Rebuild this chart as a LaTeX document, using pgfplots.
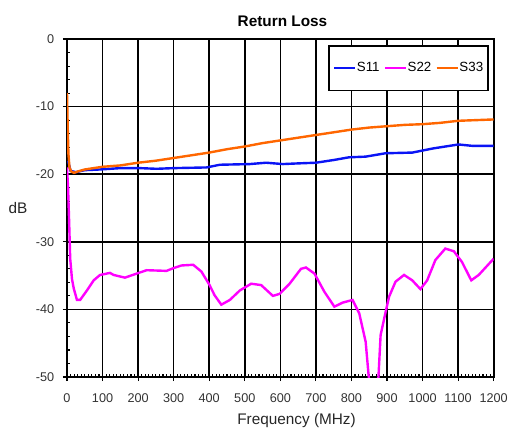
\documentclass[border=0pt]{standalone}
\usepackage{fontspec}
\setmainfont{Liberation Sans}
\usepackage{pgfplots}
\pgfplotsset{compat=1.18}
\definecolor{sblue}{RGB}{10,20,245}
\definecolor{smag}{RGB}{255,0,255}
\definecolor{sorange}{RGB}{255,102,0}
\begin{document}
\begin{tikzpicture}
\begin{axis}[
  name=ax,
  scale only axis,
  width=320pt, height=253.5pt,
  xmin=0, xmax=1200, ymin=-50, ymax=0,
  xtick={0,100,200,300,400,500,600,700,800,900,1000,1100,1200},
  ytick={-50,-40,-30,-20,-10,0},
  minor xtick={0,10,...,1200},
  minor ytick={-50,-48,...,0},
  xtick pos=bottom, ytick pos=left,
  tick align=inside,
  major tick length=3pt, minor tick length=2.5pt,
  tick style={black, line width=0.8pt},
  xmajorgrids=true, ymajorgrids=true,
  major grid style={black, line width=1.1pt},
  axis line style={black, line width=1.3pt},
  extra x ticks={0,100,200,300,400,500,600,700,800,900,1000,1100,1200},
  extra x tick labels={,,,,,,,,,,,,},
  extra y ticks={-50,-40,-30,-20,-10,0},
  extra y tick labels={,,,,,},
  extra tick style={tick align=outside, major tick length=3pt, grid=none},
  /pgf/number format/assume math mode=true,
  /pgf/number format/1000 sep={},
  ticklabel style={font=\fontsize{9.5}{11}\selectfont, text=black!80},
  x tick label style={anchor=north, yshift=-9pt},
  y tick label style={anchor=east, xshift=-6pt},
  title={Return Loss},
  title style={font=\bfseries\fontsize{11.5}{13}\selectfont, at={(axis description cs:0.505,1)}, anchor=center, yshift=7pt},
  xlabel={Frequency (MHz)},
  xlabel style={font=\fontsize{11.5}{13}\selectfont, text=black!85, at={(axis description cs:0.538,0)}, anchor=center, yshift=-33pt},
  ylabel={dB},
  ylabel style={font=\fontsize{11.5}{13}\selectfont, text=black!85, rotate=-90, at={(axis description cs:-0.115,0.5)}, anchor=center},
  legend columns=-1,
  legend style={at={(1,1)}, anchor=north east, xshift=-3.75pt, yshift=-4.5pt,
    draw=black, line width=1.2pt, fill=white,
    font=\fontsize{10}{12}\selectfont,
    inner xsep=3pt, inner ysep=10.5pt,
    nodes={inner xsep=0.5pt},
    /tikz/every even column/.append style={column sep=2.5pt}},
  legend image code/.code={\draw[#1] (0pt,0pt) -- (15.75pt,0pt);},
]
\addplot[sblue, line width=1.8pt] coordinates {
(3,-18) (10,-19.5) (25,-19.7) (50,-19.4) (93,-19.3) (150,-19.1) (205,-19.1)
(252,-19.2) (300,-19.1) (392,-19.0) (430,-18.6) (514,-18.5) (560,-18.3)
(607,-18.5) (650,-18.4) (700,-18.3) (750,-17.9) (793,-17.5) (840,-17.4)
(896,-16.9) (971,-16.8) (1028,-16.2) (1101,-15.6) (1139,-15.8) (1200,-15.8)
};
\addlegendentry{S11}
\addplot[smag, line width=1.8pt] coordinates {
(0,-19) (3,-22) (6,-27) (9,-32.5) (14,-35.5) (19,-36.9) (28,-38.6) (37,-38.6)
(56,-37.2) (75,-35.7) (93,-34.9) (121,-34.6) (131,-34.9) (163,-35.3) (196,-34.7)
(224,-34.2) (280,-34.3) (299,-33.9) (322,-33.5) (355,-33.4) (378,-34.4)
(401,-36.4) (415,-37.9) (434,-39.3) (458,-38.6) (486,-37.2) (518,-36.2)
(546,-36.4) (579,-38.0) (598,-37.7) (626,-36.2) (658,-34.0) (672,-33.8)
(696,-34.7) (724,-37.4) (752,-39.6) (775,-39.0) (803,-38.6) (822,-40.6)
(840,-44.8) (852,-52) (874,-52) (882,-43.8) (896,-40.4) (906,-38.1)
(924,-35.9) (948,-34.9) (971,-35.7) (994,-37.0) (1013,-35.7) (1036,-32.7)
(1064,-31.0) (1088,-31.4) (1111,-33.0) (1137,-35.7) (1158,-34.9) (1200,-32.5)
};
\addlegendentry{S22}
\addplot[sorange, line width=1.8pt] coordinates {
(0,-8) (2,-13) (4,-17) (7,-19) (12,-19.6) (20,-19.8) (30,-19.6) (50,-19.3)
(75,-19.1) (100,-18.9) (150,-18.7) (200,-18.3) (250,-18.0) (300,-17.6)
(350,-17.2) (400,-16.8) (450,-16.3) (500,-15.9) (550,-15.4) (600,-15.0)
(650,-14.6) (700,-14.2) (750,-13.8) (800,-13.4) (850,-13.1) (900,-12.9)
(950,-12.7) (1000,-12.6) (1050,-12.4) (1100,-12.1) (1150,-12.0) (1200,-11.9)
};
\addlegendentry{S33}
\end{axis}
\pgfresetboundingbox
\path (-50.25pt,-39.75pt) rectangle (331.5pt,282.75pt);
\end{tikzpicture}
\end{document}
